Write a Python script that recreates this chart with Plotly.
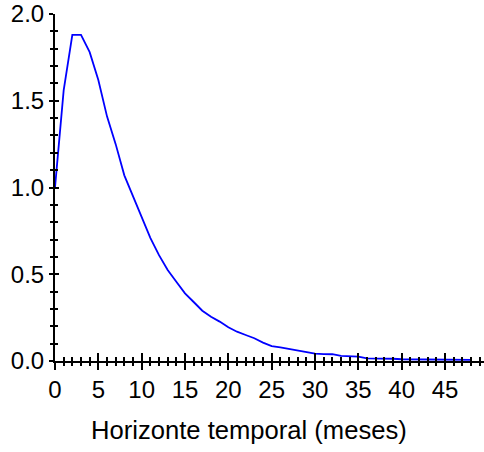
import plotly.graph_objects as go

months = list(range(49))
response = [1.0, 1.56, 1.88, 1.88, 1.78, 1.62, 1.41, 1.25, 1.07, 0.95,
            0.83, 0.71, 0.61, 0.525, 0.457, 0.39, 0.34, 0.29, 0.255, 0.227,
            0.194, 0.169, 0.15, 0.131, 0.106, 0.086, 0.079, 0.069, 0.06, 0.052,
            0.042, 0.04, 0.039, 0.029, 0.028, 0.025, 0.015, 0.015, 0.014, 0.013,
            0.01, 0.009, 0.008, 0.008, 0.007, 0.007, 0.006, 0.006, 0.006]
x_title = "Horizonte temporal (meses)"
x_tickvals = [0, 5, 10, 15, 20, 25, 30, 35, 40, 45]
y_tickvals = [0.0, 0.5, 1.0, 1.5, 2.0]
y_ticktext = ["0.0", "0.5", "1.0", "1.5", "2.0"]

FONT = "Liberation Sans, Arial, sans-serif"
FS = 24
XR = [0, 49.5]
YR = [0, 2.0]

fig = go.Figure()
fig.add_trace(go.Scatter(x=months, y=response, mode="lines",
                         line=dict(color="#0000FF", width=1.8),
                         showlegend=False, hoverinfo="skip"))
# invisible trace on overlay axes (for the other half of the crossing ticks)
fig.add_trace(go.Scatter(x=[months[0]], y=[response[0]], xaxis="x2", yaxis="y2",
                         mode="markers", marker=dict(opacity=0), showlegend=False,
                         hoverinfo="skip"))

common_x = dict(range=XR, tickmode="array", tickvals=x_tickvals,
                ticktext=[str(v) for v in x_tickvals], automargin=False,
                ticklabeloverflow="allow",
                showgrid=False, zeroline=False, tickcolor="black", tickwidth=2)
common_y = dict(range=YR, tickmode="array", tickvals=y_tickvals,
                ticktext=y_ticktext, automargin=False,
                ticklabeloverflow="allow",
                showgrid=False, zeroline=False, tickcolor="black", tickwidth=2)

fig.update_layout(
    width=484, height=452,
    margin=dict(l=55, r=0, t=14, b=91),
    paper_bgcolor="white", plot_bgcolor="white",
    font=dict(family=FONT, size=FS, color="black"),
    xaxis=dict(**common_x, showline=True, linecolor="black", linewidth=2,
               ticks="inside", ticklen=8, tickfont=dict(size=FS),
               ticklabelstandoff=6,
               minor=dict(ticks="inside", dtick=1, ticklen=4, tickcolor="black", tickwidth=2)),
    yaxis=dict(**common_y, showline=True, linecolor="black", linewidth=2,
               ticks="outside", ticklen=4, tickfont=dict(size=FS),
               minor=dict(ticks="outside", dtick=0.1, ticklen=3, tickcolor="black", tickwidth=2)),
    xaxis2=dict(**common_x, overlaying="x", anchor="y2", side="bottom",
                ticks="outside", ticklen=8, showticklabels=False, showline=False,
                minor=dict(ticks="outside", dtick=1, ticklen=4, tickcolor="black", tickwidth=2)),
    yaxis2=dict(**common_y, overlaying="y", anchor="x2", side="left",
                ticks="inside", ticklen=4, showticklabels=False, showline=False,
                minor=dict(ticks="inside", dtick=0.1, ticklen=3, tickcolor="black", tickwidth=2)),
    annotations=[dict(text=x_title, xref="paper", yref="paper", x=0.452, y=-0.2,
                      xanchor="center", yanchor="middle", showarrow=False,
                      font=dict(family=FONT, size=25.6, color="black"))],
)

fig.write_html("out.html", config={"displayModeBar": False},
               post_script="document.body.style.margin='0';document.body.style.padding='0';")
